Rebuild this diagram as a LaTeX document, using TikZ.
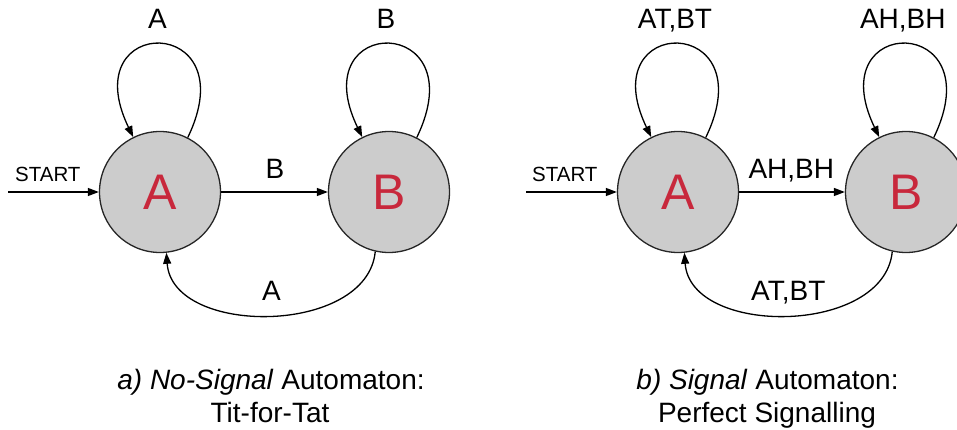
\documentclass[tikz,border=0pt]{standalone}
\usepackage{fontspec}
\setmainfont{Liberation Sans}
\usetikzlibrary{arrows.meta}
\definecolor{statered}{RGB}{200,40,60}
\definecolor{statefill}{RGB}{204,204,204}
\begin{document}
\begin{tikzpicture}[x=1pt,y=-1pt,
  state/.style={circle,draw=black!85,line width=1.3pt,fill=statefill,minimum size=121pt,inner sep=0pt,
    text=statered,font=\fontsize{50}{50}\selectfont},
  edge/.style={line width=1.3pt,-{Triangle[length=11pt,width=8pt]}},
  lbl/.style={font=\fontsize{28}{28}\selectfont,inner sep=0pt,anchor=base},
  startlbl/.style={font=\fontsize{20.5}{20.5}\selectfont,inner sep=0pt,anchor=base west},
  caption/.style={font=\fontsize{28}{33}\selectfont,inner sep=0pt,anchor=base}]
\useasboundingbox (0,0) rectangle (957,430);
\clip (0,0) rectangle (957,430);
% ---------- panel a ----------
\node[state] (A1) at (160,192) {A};
\node[state] (B1) at (389,192) {B};
\coordinate (S1) at (8,192);
\node[startlbl] (st1) at (15,182) {START};
\draw[edge] (S1) -- (A1);
\draw[edge] (A1) -- (B1);
\node[lbl] (l1) at (275,178.5) {B};
\draw[edge] (A1.63) .. controls +(60,-124) and +(-60,-124) .. (A1.116);
\node[lbl] (l2) at (157.5,28.5) {A};
\draw[edge] (B1.63) .. controls +(60,-124) and +(-60,-124) .. (B1.116);
\node[lbl] (l3) at (386,28.5) {B};
\draw[edge] (B1.-103) .. controls +(-8,84) and +(6,84) .. (A1.-84);
\node[lbl] (l4) at (271.5,300) {A};
\node[caption] (c1a) at (271,389) {\textit{a) No-Signal} Automaton:};
\node[caption] (c1b) at (270,422.5) {Tit-for-Tat};
% ---------- panel b ----------
\node[state] (A2) at (678,192) {A};
\node[state] (B2) at (906,192) {B};
\coordinate (S2) at (526,192);
\node[startlbl] (st2) at (532,182) {START};
\draw[edge] (S2) -- (A2);
\draw[edge] (A2) -- (B2);
\node[lbl] (m1) at (791.3,178.5) {AH,BH};
\draw[edge] (A2.63) .. controls +(60,-124) and +(-60,-124) .. (A2.116);
\node[lbl] (m2) at (675,28.5) {AT,BT};
\draw[edge] (B2.63) .. controls +(60,-124) and +(-60,-124) .. (B2.116);
\node[lbl] (m3) at (902.8,28.5) {AH,BH};
\draw[edge] (B2.-103) .. controls +(-8,84) and +(6,84) .. (A2.-84);
\node[lbl] (m4) at (788.3,300) {AT,BT};
\node[caption] (c2a) at (767.5,389) {\textit{b) Signal} Automaton:};
\node[caption] (c2b) at (767,422.5) {Perfect Signalling};
\end{tikzpicture}
\end{document}
